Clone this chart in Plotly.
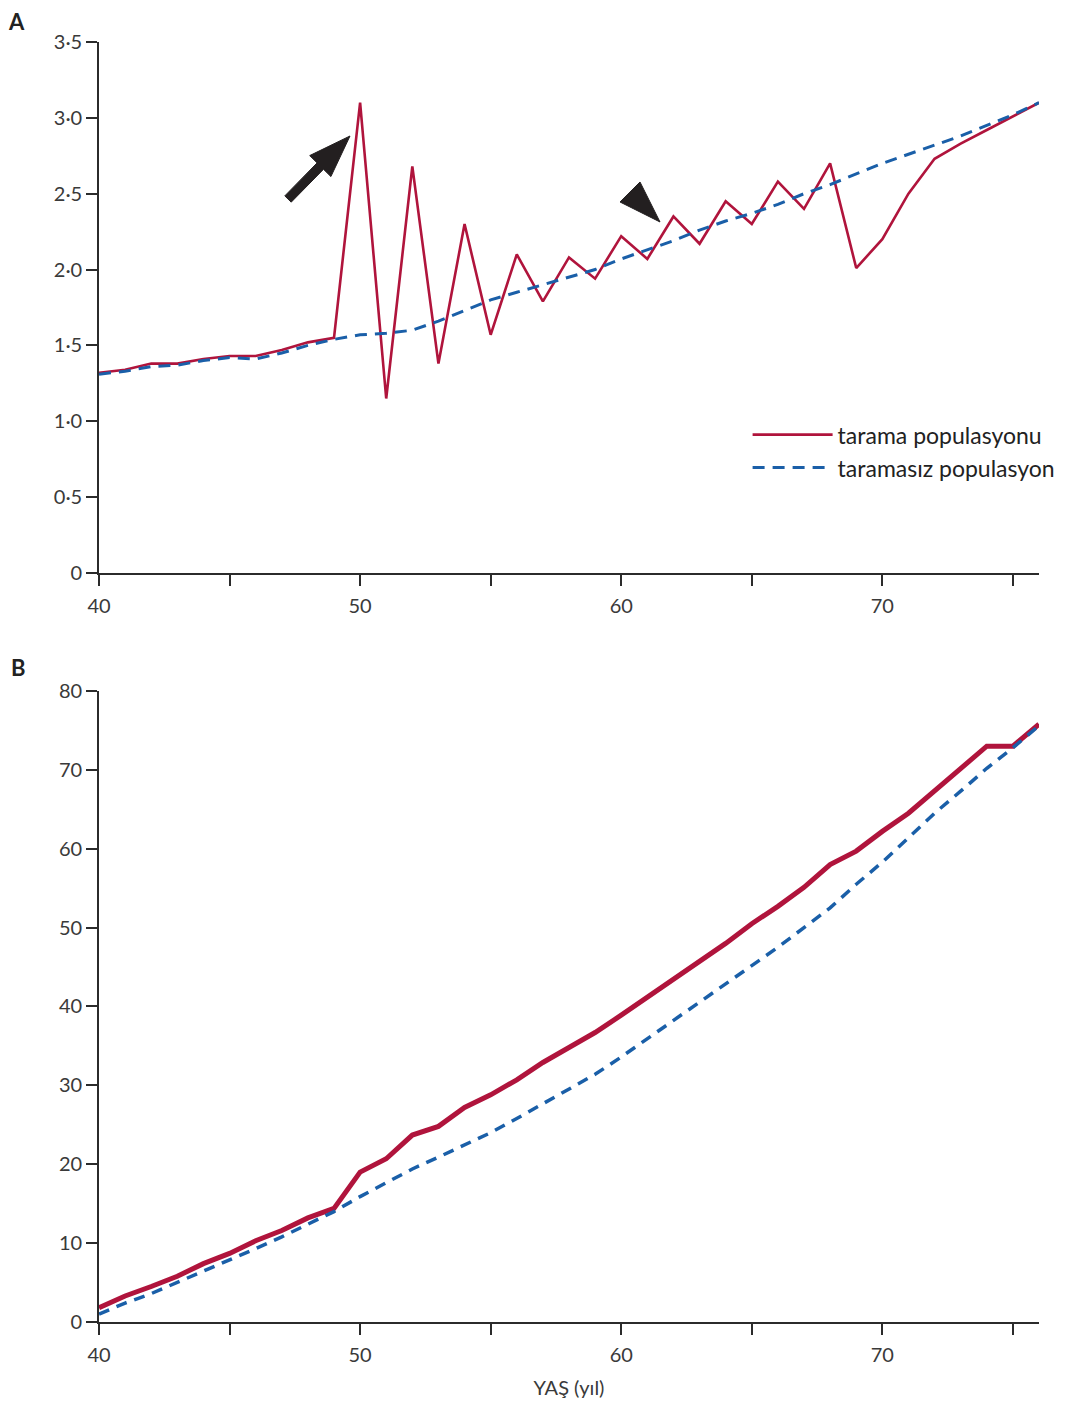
import plotly.graph_objects as go

# ---------------- data ----------------
ages = list(range(40, 77))

# Panel A
a_screen = [1.32, 1.34, 1.38, 1.38, 1.41, 1.43, 1.43, 1.47, 1.52, 1.55,
            3.10, 1.15, 2.68, 1.38, 2.30, 1.57, 2.10, 1.79, 2.08, 1.94,
            2.22, 2.07, 2.35, 2.17, 2.45, 2.30, 2.58, 2.40, 2.70, 2.01,
            2.20, 2.50, 2.73, 2.83, 2.92, 3.01, 3.10]
a_noscreen = [1.31, 1.33, 1.36, 1.37, 1.40, 1.42, 1.41, 1.45, 1.50, 1.54,
              1.57, 1.58, 1.60, 1.66, 1.73, 1.80, 1.85, 1.90, 1.95, 2.00,
              2.07, 2.13, 2.19, 2.26, 2.32, 2.37, 2.43, 2.50, 2.56, 2.63,
              2.70, 2.76, 2.82, 2.88, 2.95, 3.02, 3.10]

# Panel B
b_screen = [1.8, 3.3, 4.5, 5.8, 7.4, 8.7, 10.3, 11.6, 13.2, 14.4,
            19.0, 20.7, 23.7, 24.8, 27.2, 28.8, 30.7, 32.9, 34.8, 36.7,
            38.9, 41.2, 43.4, 45.8, 48.0, 50.5, 52.7, 55.1, 58.0, 59.7,
            62.2, 64.5, 67.4, 70.1, 73.0, 73.0, 75.8]
b_noscreen = [1.0, 2.4, 3.6, 5.0, 6.4, 7.8, 9.3, 10.8, 12.4, 14.0,
              15.9, 17.7, 19.4, 20.9, 22.4, 24.0, 25.8, 27.7, 29.5, 31.4,
              33.6, 35.9, 38.2, 40.6, 42.8, 45.1, 47.5, 50.0, 52.5, 55.5,
              58.3, 61.4, 64.5, 67.3, 70.2, 72.8, 75.6]

x_tickvals = [40, 45, 50, 55, 60, 65, 70, 75]
x_ticktext = ["40", "", "50", "", "60", "", "70", ""]
a_tickvals = [0, 0.5, 1.0, 1.5, 2.0, 2.5, 3.0, 3.5]
a_ticktext = ["0", "0·5", "1·0", "1·5", "2·0", "2·5", "3·0", "3·5"]
b_tickvals = [0, 10, 20, 30, 40, 50, 60, 70, 80]
b_ticktext = ["0", "10", "20", "30", "40", "50", "60", "70", "80"]

names = ["tarama populasyonu", "taramasız populasyon"]

# ---------------- style ----------------
RED = "#B0143C"
BLUE = "#1A5FA8"
TXT = "#3A3A3A"
FONT = "Lato"

fig = go.Figure()

fig.add_trace(go.Scatter(x=ages, y=a_screen, mode="lines", name=names[0],
                         line=dict(color=RED, width=2.6), xaxis="x", yaxis="y"))
fig.add_trace(go.Scatter(x=ages, y=a_noscreen, mode="lines", name=names[1],
                         line=dict(color=BLUE, width=3, dash="12px,8px"), xaxis="x", yaxis="y"))
fig.add_trace(go.Scatter(x=ages, y=b_screen, mode="lines", showlegend=False,
                         line=dict(color=RED, width=5), xaxis="x2", yaxis="y2"))
fig.add_trace(go.Scatter(x=ages, y=b_noscreen, mode="lines", showlegend=False,
                         line=dict(color=BLUE, width=3.5, dash="11px,8px"), xaxis="x2", yaxis="y2"))

axis_common = dict(showline=True, linecolor="#2b2b2b", linewidth=1.6,
                   ticks="outside", ticklen=11, tickwidth=1.6, tickcolor="#2b2b2b",
                   showgrid=False, zeroline=False, automargin=False,
                   tickfont=dict(family=FONT, size=20, color=TXT))

# page body has an 8px margin: figure sits at (8, 8)
fig.update_layout(
    width=1053, height=1393,
    margin=dict(l=91, r=22, t=34, b=79, autoexpand=False),
    paper_bgcolor="white", plot_bgcolor="white",
    font=dict(family=FONT, color=TXT),
    xaxis=dict(domain=[0, 1], range=[40, 76], anchor="y", ticklabelstandoff=3,
               tickvals=x_tickvals, ticktext=x_ticktext, **axis_common),
    yaxis=dict(domain=[0.5852, 1.0], range=[0, 3.5], anchor="x",
               tickvals=a_tickvals, ticktext=a_ticktext, **axis_common),
    xaxis2=dict(domain=[0, 1], range=[40, 76], anchor="y2", ticklabelstandoff=3,
                tickvals=x_tickvals, ticktext=x_ticktext,
                title=dict(text="YAŞ (yıl)", font=dict(family=FONT, size=20, color=TXT), standoff=16),
                **axis_common),
    yaxis2=dict(domain=[0, 0.49297], range=[0, 80], anchor="x2",
                tickvals=b_tickvals, ticktext=b_ticktext, **axis_common),
    legend=dict(x=0.690, y=0.710, xanchor="left", yanchor="top",
                bgcolor="rgba(0,0,0,0)", itemwidth=80,
                font=dict(family=FONT, size=23, color="#222"),
                tracegroupgap=0),
    showlegend=True,
)

# panel letters
fig.add_annotation(text="<b>A</b>", x=-0.098, y=1.0164, xref="paper", yref="paper",
                   xanchor="left", yanchor="middle", showarrow=False, borderpad=0,
                   font=dict(family=FONT, size=22, color="#222"))
fig.add_annotation(text="<b>B</b>", x=-0.0945, y=0.5117, xref="paper", yref="paper",
                   xanchor="left", yanchor="middle", showarrow=False, borderpad=0,
                   font=dict(family=FONT, size=22, color="#222"))

# pointer shapes (decorations), expressed in panel-A data units
def pa(px, py):
    return 40 + (px - 99) * 36 / 940, (573 - py) * 3.5 / 531

def poly(pts):
    d = ""
    for i, (px, py) in enumerate(pts):
        xx, yy = pa(px, py)
        d += ("M" if i == 0 else "L") + f"{xx:.4f},{yy:.4f} "
    return d + "Z"

arrow_pts = [(284.8, 195.9), (317.1, 162.9), (309.7, 155.6), (350, 136),
             (330.9, 176.6), (323.5, 169.3), (291.2, 202.2)]
tri_pts = [(620, 202), (640, 182), (660, 222)]
for pts in (arrow_pts, tri_pts):
    fig.add_shape(type="path", path=poly(pts), xref="x", yref="y",
                  fillcolor="#231f20", line=dict(color="#231f20", width=1))

fig.write_html("out.html")
